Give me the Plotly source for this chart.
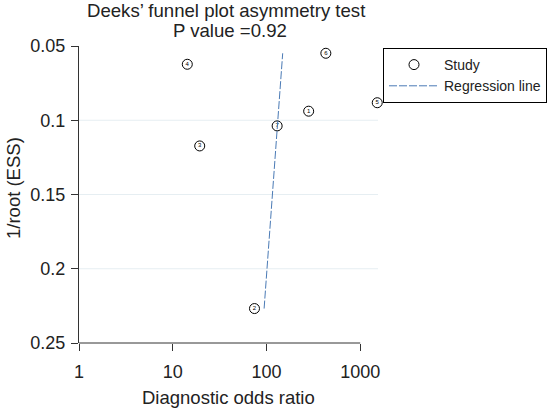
import plotly.graph_objects as go

# Study points
study_ids = ["1", "2", "3", "4", "5", "6", "7"]
dor = [282, 74.5, 19.4, 14.3, 1520, 430, 130]
inv_root_ess = [0.0939, 0.2268, 0.1173, 0.0623, 0.0882, 0.0549, 0.1038]

# Regression line end points
reg_x = [94.4, 149]
reg_y = [0.2268, 0.0549]

x_ticks = [1, 10, 100, 1000]
y_ticks = [0.05, 0.1, 0.15, 0.2, 0.25]
y_tick_text = ["0.05", "0.1", "0.15", "0.2", "0.25"]
y_grid = [0.1, 0.15, 0.2]

font = "Liberation Sans, Arial, sans-serif"
x_max_log = 3.19

W, H = 548, 409
L, T = 79, 46
pw, ph = 299, 297
R, B = W - L - pw, H - T - ph


def px(xr, yr):
    # pixel position -> paper coords
    return (xr - L) / pw, (H - B - yr) / ph


fig = go.Figure()

fig.add_trace(go.Scatter(
    x=dor, y=inv_root_ess, mode="markers+text", name="Study",
    text=study_ids, textposition="middle center",
    textfont=dict(size=6, color="black", family=font),
    marker=dict(symbol="circle-open", size=10, color="black", line=dict(width=1)),
    cliponaxis=False,
))

fig.add_trace(go.Scatter(
    x=reg_x, y=reg_y, mode="lines", name="Regression line",
    line=dict(color="#4a7ab5", width=1, dash="8px,2px"),
))

shapes = []
for g in y_grid:
    shapes.append(dict(type="line", xref="paper", yref="y", x0=0, x1=1, y0=g, y1=g,
                       line=dict(color="#e6eef2", width=1), layer="below"))
# x axis line only spans 1..1000
shapes.append(dict(type="line", xref="x domain", yref="y domain", x0=0, x1=3 / x_max_log,
                   y0=0, y1=0, line=dict(color="#333333", width=1)))

t1 = px(226, 11)
t2 = px(230, 30)
xt = px(228, 397)
yt = px(13, 188)
annotations = [
    dict(text="Deeks’ funnel plot asymmetry test", xref="paper", yref="paper",
         x=t1[0], y=t1[1], xanchor="center", yanchor="middle",
         showarrow=False, font=dict(size=18.6)),
    dict(text="P value =0.92", xref="paper", yref="paper",
         x=t2[0], y=t2[1], xanchor="center", yanchor="middle",
         showarrow=False, font=dict(size=18.6)),
    dict(text="Diagnostic odds ratio", xref="paper", yref="paper",
         x=xt[0], y=xt[1], xanchor="center", yanchor="middle",
         showarrow=False, font=dict(size=18.5)),
    dict(text="1/root (ESS)", xref="paper", yref="paper", textangle=-90,
         x=yt[0], y=yt[1], xanchor="center", yanchor="middle",
         showarrow=False, font=dict(size=18.5)),
]

lg = px(383, 48)
fig.update_layout(
    width=W, height=H,
    margin=dict(l=L, r=R, t=T, b=B, autoexpand=False),
    paper_bgcolor="white", plot_bgcolor="white",
    font=dict(family=font, color="#222222", size=18),
    showlegend=True,
    legend=dict(x=lg[0], xanchor="left", y=lg[1], yanchor="top",
                bordercolor="black", borderwidth=1, bgcolor="white",
                font=dict(size=14), itemwidth=50, tracegroupgap=0),
    shapes=shapes,
    annotations=annotations,
)

fig.update_xaxes(
    type="log", range=[0, x_max_log], automargin=False,
    tickvals=x_ticks, ticktext=[str(v) for v in x_ticks],
    ticks="outside", ticklen=7, tickcolor="#333333", ticklabelstandoff=5,
    showgrid=False, zeroline=False, showline=False,
)
fig.update_yaxes(
    range=[0.25, 0.05], automargin=False,
    tickvals=y_ticks, ticktext=y_tick_text,
    ticks="outside", ticklen=7, tickcolor="#333333", ticklabelstandoff=2,
    showgrid=False, zeroline=False, showline=True, linecolor="#333333",
)

# page body margin would push the figure 8px off the window
fig.write_html("out.html", config={"displayModeBar": False},
               post_script="document.body.style.margin='0';")
